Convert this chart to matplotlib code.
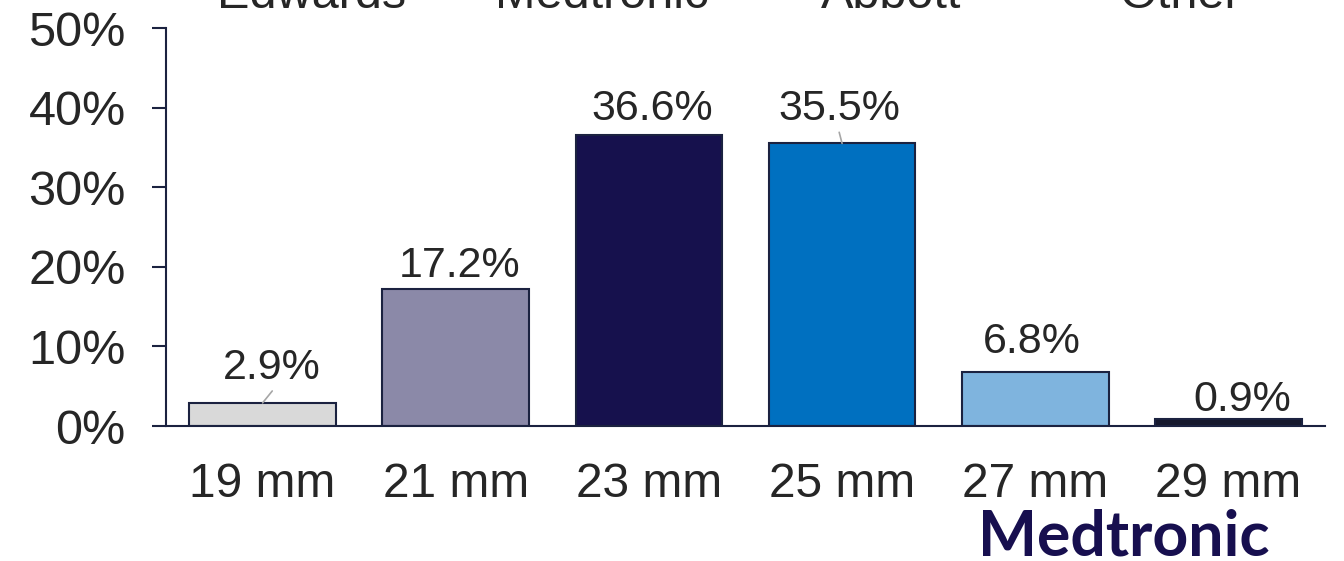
import matplotlib
matplotlib.use("Agg")
import matplotlib.pyplot as plt

sizes = ["19 mm", "21 mm", "23 mm", "25 mm", "27 mm", "29 mm"]
shares = [2.9, 17.2, 36.6, 35.5, 6.8, 0.9]
bar_colors = ["#d9d9d9", "#8b89a8", "#16114d", "#0070c0", "#7fb4de", "#16192e"]
makers = ["Edwards", "Medtronic", "Abbott", "Other"]
y_ticks = [0, 10, 20, 30, 40, 50]

# label placement: (x shift in categories, gap above bar in %)
label_shift = [(0.05, 3.0), (0.02, 1.5), (0.015, 1.8), (-0.015, 2.9), (-0.02, 2.4), (0.07, 1.0)]
leader = [True, False, False, True, False, False]

plt.rcParams["font.family"] = ["Liberation Sans", "DejaVu Sans"]

W, H = 1344, 561
fig = plt.figure(figsize=(W / 100, H / 100), dpi=100)
ax = fig.add_axes([166 / W, 1 - 426 / H, (1325 - 166) / W, (426 - 28) / H])

navy = "#1b2240"
text_c = "#262626"

x = list(range(len(sizes)))
ax.bar(x, shares, width=0.76, color=bar_colors, edgecolor=navy, linewidth=1.5)

ax.set_xlim(-0.5, len(sizes) - 0.5)
ax.set_ylim(0, 50)
ax.set_yticks(y_ticks)
ax.set_yticklabels([f"{t}%" for t in y_ticks], fontsize=35, color=text_c)
ax.set_xticks(x)
ax.set_xticklabels(sizes, fontsize=34.5, color=text_c)
ax.tick_params(axis="y", length=10, width=1.5, color=navy, pad=19)
ax.tick_params(axis="x", length=0, pad=26)

for s in ["top", "right"]:
    ax.spines[s].set_visible(False)
ax.spines["left"].set_color(navy)
ax.spines["bottom"].set_color(navy)
ax.spines["left"].set_linewidth(1.5)
ax.spines["bottom"].set_linewidth(1.5)

# value labels, two of them tied to their bar by a short grey leader
for i, v in enumerate(shares):
    dx, dy = label_shift[i]
    ax.text(i + dx, v + dy, f"{v}%", ha="center", va="baseline",
            fontsize=31, color=text_c)
    if leader[i]:
        ax.annotate("", xy=(i, v), xytext=(i + dx, v + dy - 1.5),
                    arrowprops=dict(arrowstyle="-", color="#a6a6a6", lw=1.2,
                                    shrinkA=0, shrinkB=0))

# maker names along the top edge
for j, m in enumerate(makers):
    fig.text((312 + 289.5 * j) / W, 1 - 8 / H, m, ha="center", va="baseline",
             fontsize=35, color=text_c)

fig.text(1270 / W, 1 - 556 / H, "Medtronic", ha="right", va="baseline",
         fontsize=45, fontweight="bold", color="#170f4f", family=["Lato", "DejaVu Sans"])

fig.savefig("out.png", dpi=100)
